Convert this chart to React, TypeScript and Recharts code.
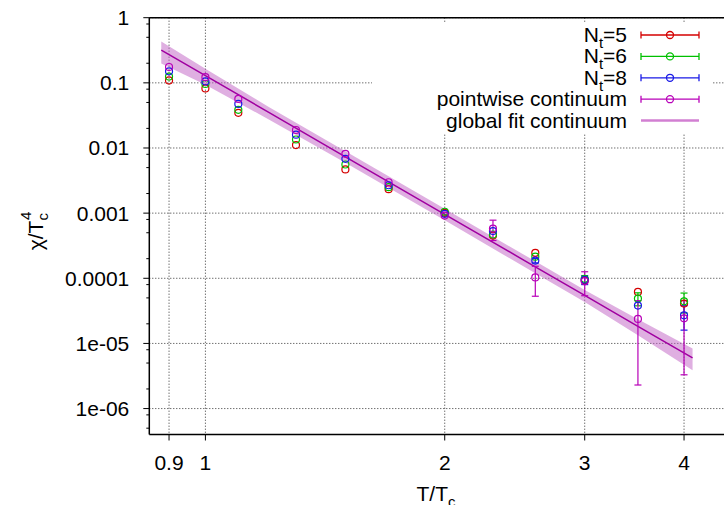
import React from 'react';
import { ComposedChart, Scatter, Line, Area, XAxis, YAxis, CartesianGrid, ErrorBar, Legend } from 'recharts';

const FONT = '"Liberation Sans", Arial, Helvetica, sans-serif';

// temperatures of the lattice points (T/Tc)
const temps = [0.9, 1.0, 1.1, 1.3, 1.5, 1.7, 2.0, 2.3, 2.6, 3.0, 3.5, 4.0];

// chi/Tc^4 per lattice size
const chiNt5 = [0.109, 0.082, 0.0347, 0.0111, 0.00468, 0.00233, 0.00101, 0.000453, 0.000245, 0.000093, 0.0000618, 0.0000409];
const chiNt6 = [0.125, 0.096, 0.0386, 0.0135, 0.00558, 0.0025, 0.00105, 0.00047, 0.000215, 0.000098, 0.0000488, 0.0000443];
const chiNt8 = [0.15, 0.105, 0.0474, 0.016, 0.00683, 0.00268, 0.000975, 0.00053, 0.000187, 0.000095, 0.0000381, 0.000027];
const chiCont = [0.175, 0.122, 0.0566, 0.0189, 0.00815, 0.00298, 0.000918, 0.00058, 0.000103, 0.00009, 0.0000238, 0.0000243];

// error bars (null = smaller than the symbol)
const errNt5 = [null, null, null, null, null, null, null, null, null, null, null, null];
const errNt6 = [null, null, null, null, null, null, null, null, null, null, 0.000011, 0.000015];
const errNt8 = [null, null, null, null, null, null, null, null, 0.000015, 0.000015, null, 0.000011];
const errCont = [null, null, null, null, null, null, null, 0.0002, 0.00005, 0.000036, 0.0000215, 0.000021];

// global fit line and its error band
const fitT = [0.88, 1.0, 1.2, 1.5, 2.0, 2.6, 3.0, 3.5, 4.1];
const fitLine = [0.318, 0.129, 0.0355, 0.00733, 0.000959, 0.00015, 0.0000546, 0.0000183, 0.000006];
const fitLow = [0.199, 0.0937, 0.0277, 0.00593, 0.000776, 0.000119, 0.0000434, 0.0000133, 0.00000387];
const fitHigh = [0.433, 0.165, 0.0431, 0.0089, 0.001165, 0.000182, 0.0000663, 0.0000235, 0.00000834];

const xTicks = [0.9, 1, 2, 3, 4];
const yMajor = [1, 0.1, 0.01, 0.001, 0.0001, 0.00001, 0.000001];
const yMajorLabels = ['1', '0.1', '0.01', '0.001', '0.0001', '1e-05', '1e-06'];
const yMinor = [0.8, 0.5, 0.2, 0.08, 0.05, 0.02, 0.008, 0.005, 0.002, 0.0008, 0.0005, 0.0002, 0.00008, 0.00005, 0.00002, 0.000008, 0.000005, 0.000002, 0.0000008, 0.0000005];

const legendNames = ['N_t=5', 'N_t=6', 'N_t=8', 'pointwise continuum', 'global fit continuum'];

const COLORS = ['#d40000', '#00c000', '#1a1ae6', '#b800b8'];
const FIT_COLOR = '#a000a0';
const BAND_COLOR = '#c060c4';

const fitRows = fitT.map((T, i) => ({ T, fit: fitLine[i], band: [fitLow[i], fitHigh[i]] }));
const toRows = (vals: number[], errs: (number | null)[]) =>
    temps.map((T, i) => ({ T, chi: vals[i], err: errs[i] ?? undefined }));

const series = [
    { rows: toRows(chiNt5, errNt5), color: COLORS[0] },
    { rows: toRows(chiNt6, errNt6), color: COLORS[1] },
    { rows: toRows(chiNt8, errNt8), color: COLORS[2] },
    { rows: toRows(chiCont, errCont), color: COLORS[3] },
];

const YTick = ({ x, y, payload }: any) => {
    const i = yMajor.indexOf(payload.value);
    const len = i >= 0 ? 6 : 3;
    return (
        <g>
            <line x1={x - len} x2={x} y1={y} y2={y} stroke="#000" strokeWidth={1} />
            {i >= 0 && (
                <text x={x - 20} y={y} dy={7.5} textAnchor="end" fontSize={21} fontFamily={FONT} fill="#000">
                    {yMajorLabels[i]}
                </text>
            )}
        </g>
    );
};

const XTick = ({ x, y, payload }: any) => (
    <text x={x} y={y} dy={29} textAnchor="middle" fontSize={21} fontFamily={FONT} fill="#000">
        {payload.value}
    </text>
);

const LegendBox = () => (
    <svg width={340} height={112} style={{ display: 'block', background: '#fff' }}>
        {legendNames.map((name, i) => {
            const cy = 13 + i * 21.4;
            const color = i < 4 ? COLORS[i] : '#d27fd2';
            const parts = name.split('_');
            return (
                <g key={name}>
                    <text x={255} y={cy} dy={7} textAnchor="end" fontSize={21} fontFamily={FONT} fill="#000">
                        {parts.length > 1 ? (
                            <>
                                {parts[0]}
                                <tspan dy={6} fontSize={15}>{parts[1][0]}</tspan>
                                <tspan dy={-6}>{parts[1].slice(1)}</tspan>
                            </>
                        ) : (
                            name
                        )}
                    </text>
                    {i < 4 ? (
                        <g stroke={color} strokeWidth={1.3} fill="none">
                            <line x1={269} x2={327} y1={cy} y2={cy} />
                            <line x1={269} x2={269} y1={cy - 3.5} y2={cy + 3.5} />
                            <line x1={327} x2={327} y1={cy - 3.5} y2={cy + 3.5} />
                            <circle cx={298} cy={cy} r={3.5} />
                        </g>
                    ) : (
                        <line x1={269} x2={327} y1={cy} y2={cy} stroke={color} strokeWidth={2.5} />
                    )}
                </g>
            );
        })}
    </svg>
);

const YLabel = () => (
    <text transform="rotate(-90, 43, 231)" x={43} y={231} textAnchor="middle" fontSize={21} fontFamily={FONT} fill="#000">
        χ/T
        <tspan dy={5} fontSize={15}>c</tspan>
        <tspan dx={-7} dy={-17} fontSize={15}>4</tspan>
    </text>
);

const XLabel = () => (
    <text x={436} y={501} textAnchor="middle" fontSize={21} fontFamily={FONT} fill="#000">
        T/T
        <tspan dy={6} fontSize={15}>c</tspan>
    </text>
);

export default function App() {
    return (
        <div style={{ position: 'absolute', left: 0, top: 0, width: 724, height: 505, overflow: 'hidden', background: '#fff' }}>
            <ComposedChart
                width={730}
                height={505}
                data={fitRows}
                margin={{ top: 7.7, right: 5.3, bottom: 40.5, left: 89.3 }}
            >
                <CartesianGrid
                    horizontalValues={yMajor}
                    verticalValues={xTicks}
                    stroke="#333"
                    strokeDasharray="1 2"
                />
                <XAxis
                    dataKey="T"
                    type="number"
                    scale="log"
                    domain={[0.85, 4.5]}
                    allowDataOverflow
                    ticks={xTicks}
                    interval={0}
                    height={30}
                    tickSize={6}
                    tickMargin={0}
                    axisLine={{ stroke: '#000', strokeWidth: 1.5 }}
                    tickLine={{ stroke: '#000' }}
                    tick={<XTick />}
                    label={() => <XLabel />}
                />
                <XAxis
                    xAxisId="top"
                    orientation="top"
                    dataKey="T"
                    type="number"
                    scale="log"
                    domain={[0.85, 4.5]}
                    allowDataOverflow
                    ticks={xTicks}
                    interval={0}
                    height={10}
                    tickSize={6}
                    tick={false}
                    axisLine={{ stroke: '#000', strokeWidth: 1.5 }}
                    tickLine={{ stroke: '#000' }}
                />
                <YAxis
                    type="number"
                    scale="log"
                    domain={[4e-7, 1]}
                    allowDataOverflow
                    ticks={[...yMajor, ...yMinor]}
                    interval={0}
                    width={60}
                    tickSize={0}
                    tickMargin={0}
                    tickLine={false}
                    axisLine={{ stroke: '#000', strokeWidth: 1.5 }}
                    tick={<YTick />}
                    label={() => <YLabel />}
                />
                <Area
                    dataKey="band"
                    type="linear"
                    stroke="none"
                    fill={BAND_COLOR}
                    fillOpacity={0.5}
                    isAnimationActive={false}
                />
                <Line
                    dataKey="fit"
                    type="linear"
                    stroke={FIT_COLOR}
                    strokeWidth={1.5}
                    dot={false}
                    isAnimationActive={false}
                />
                {series.map((s, k) => (
                    <Scatter
                        key={k}
                        data={s.rows}
                        dataKey="chi"
                        isAnimationActive={false}
                        shape={(p: any) => (
                            <circle cx={p.cx} cy={p.cy} r={3.5} fill="none" stroke={s.color} strokeWidth={1.2} />
                        )}
                    >
                        <ErrorBar dataKey="err" direction="y" width={3.5} stroke={s.color} strokeWidth={1.2} isAnimationActive={false} />
                    </Scatter>
                ))}
                <Legend
                    content={() => <LegendBox />}
                    layout="horizontal"
                    verticalAlign="middle"
                    align="center"
                    wrapperStyle={{ left: 372, top: 22, width: 340, height: 112 }}
                />
            </ComposedChart>
        </div>
    );
}
